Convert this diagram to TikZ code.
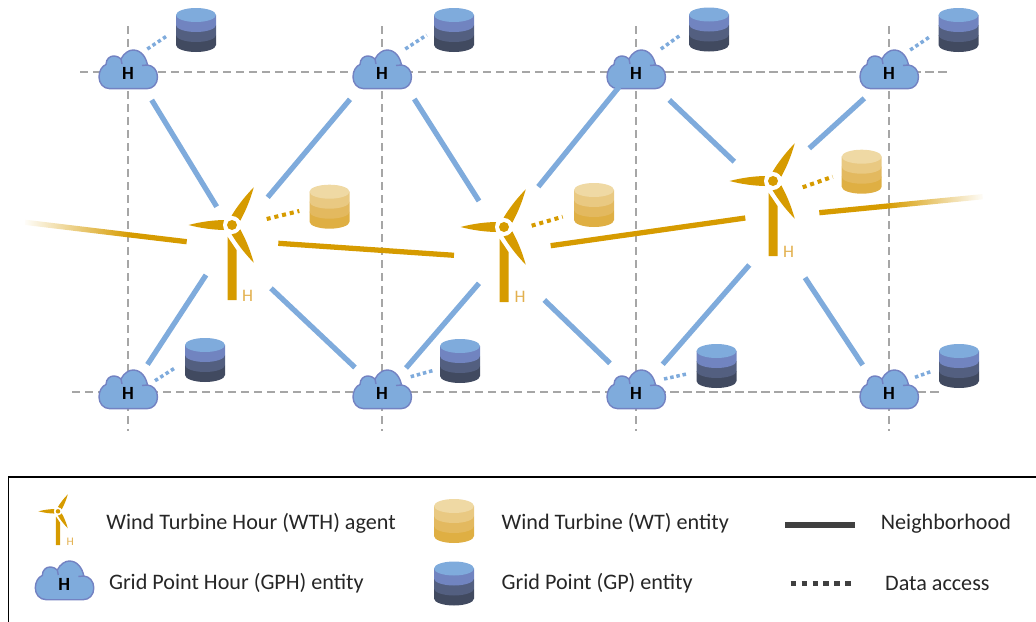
\documentclass[tikz,border=0pt]{standalone}
\usepackage{fontspec}
\setmainfont{Carlito}
\usetikzlibrary{calc,fadings}
\definecolor{gridblue}{HTML}{7FABDC}
\definecolor{cloudedge}{HTML}{7382C2}
\definecolor{windgold}{HTML}{D69B00}
\definecolor{hourgold}{HTML}{E2B04E}
\definecolor{gridgray}{HTML}{A6A6A6}
\definecolor{legendgray}{HTML}{404040}
\definecolor{gpa}{HTML}{7FABDC}
\definecolor{gpb}{HTML}{7184C0}
\definecolor{gpc}{HTML}{535F80}
\definecolor{gpd}{HTML}{414A60}
\definecolor{wta}{HTML}{EFD9A4}
\definecolor{wtb}{HTML}{E9C982}
\definecolor{wtc}{HTML}{E3B95F}
\definecolor{wtd}{HTML}{DFAF43}
\tikzfading[name=fadewest,left color=transparent!100,right color=transparent!0]
\tikzfading[name=fadeeast,left color=transparent!0,right color=transparent!100]
\tikzstyle{griddash}=[draw=gridgray,line width=0.7pt,dash pattern=on 4.8pt off 2.6pt]
\tikzstyle{neighbor}=[draw=gridblue,line width=3pt]
\tikzstyle{windline}=[draw=windgold,line width=3pt]
\tikzstyle{griddata}=[draw=gridblue,line width=2pt,dash pattern=on 2pt off 1.6pt]
\tikzstyle{winddata}=[draw=windgold,line width=2.3pt,dash pattern=on 2.3pt off 2.2pt]
\tikzstyle{hubnode}=[circle,fill=windgold,minimum size=5.7pt,inner sep=0pt,transform shape]
\tikzstyle{Hcloud}=[inner sep=0pt,font=\fontsize{10.6}{12}\selectfont\bfseries,text height=8.3pt,text depth=0pt]
\tikzstyle{Hturbine}=[inner sep=0pt,text=hourgold,font=\fontsize{10}{12}\selectfont]
\tikzstyle{legendtext}=[anchor=west,inner sep=0pt,text=black!85,font=\fontsize{12.6}{14}\selectfont]
\newcommand{\cloudnode}[3]{
    \begin{scope}[shift={(#2,#3)}]
        \draw[fill=gridblue,draw=cloudedge,line width=0.8pt,line join=round]
            (-18,16.7) .. controls (-25,16.7) and (-29,11) .. (-29,5)
            .. controls (-29,-1) and (-26,-6) .. (-22,-7.5)
            .. controls (-22,-13) and (-18,-16) .. (-14.5,-16)
            .. controls (-11,-16) and (-8.5,-14.5) .. (-7,-13)
            .. controls (-4,-19) and (1,-22) .. (5,-22)
            .. controls (13,-22) and (18,-15) .. (19.5,-7)
            .. controls (25,-6.5) and (29.5,-2) .. (29.5,5)
            .. controls (29.5,12) and (25,16.7) .. (18.7,16.7) -- cycle;
        \draw[draw=cloudedge,line width=0.8pt] (-7,-13) .. controls (-6.3,-11) .. (-6,-8);
        \draw[draw=cloudedge,line width=0.8pt] (19.5,-7) .. controls (17,-7.3) .. (14,-6.5);
        \node[Hcloud] (#1) at (0,0) {H};
    \end{scope}
}
\newcommand{\cylstack}[7]{
    \begin{scope}[shift={(#2,#3)}]
        \foreach \ya/\yb/\col in {5/15/#7,-5/5/#6,-15/-5/#5} {
            \fill[\col] (-20,\ya) -- (-20,\yb) arc[start angle=180,end angle=0,x radius=20,y radius=7] -- (20,\ya) -- cycle;
        }
        \fill[#4] (0,-15) ellipse[x radius=20,y radius=7];
        \coordinate (#1) at (0,0);
    \end{scope}
}
\newcommand{\windturbine}[4]{
    \begin{scope}[shift={(#2,#3)},scale=#4]
        \fill[windgold] (-4.5,75) -- (-4.5,11.7) -- (4.5,25) -- (4.5,75) -- cycle;
        \foreach \ang in {0,120,240} {
            \fill[windgold,rotate=\ang] (-43.5,0) .. controls (-30,-3.5) and (-18,-4.8) .. (-8,-5) -- (-8,5) .. controls (-18,4.8) and (-30,3.5) .. (-43.5,0) -- cycle;
        }
        \fill[white] (0,0) circle (9);
        \node[hubnode] (#1) at (0,0) {};
    \end{scope}
}
\begin{document}
\begin{tikzpicture}[x=0.02cm,y=-0.02cm]
    \useasboundingbox (0,0) rectangle (1036,622);
    \coordinate (HN1) at (80,72);
    \coordinate (HN2) at (946.7,72);
    \coordinate (HS1) at (72,392);
    \coordinate (HS2) at (938.5,392);
    \draw[griddash] (HN1) -- (HN2);
    \draw[griddash] (HS1) -- (HS2);
    \foreach \n/\x in {1/128,2/382,3/636,4/889} {
        \coordinate (VN\n) at (\x,26);
        \coordinate (VS\n) at (\x,431);
        \draw[griddash] (VN\n) -- (VS\n);
    }

    \cloudnode{GT1}{128}{72}
    \cloudnode{GT2}{382}{72}
    \cloudnode{GT3}{636}{72}
    \cloudnode{GT4}{889}{72}
    \cloudnode{GB1}{128}{392}
    \cloudnode{GB2}{382}{392}
    \cloudnode{GB3}{636}{392}
    \cloudnode{GB4}{889}{392}
    \cylstack{DT1}{196}{30}{gpa}{gpb}{gpc}{gpd}
    \cylstack{DT2}{454}{30}{gpa}{gpb}{gpc}{gpd}
    \cylstack{DT3}{709}{29.5}{gpa}{gpb}{gpc}{gpd}
    \cylstack{DT4}{958.5}{30}{gpa}{gpb}{gpc}{gpd}
    \cylstack{DB1}{205}{360}{gpa}{gpb}{gpc}{gpd}
    \cylstack{DB2}{460}{361}{gpa}{gpb}{gpc}{gpd}
    \cylstack{DB3}{716.5}{366}{gpa}{gpb}{gpc}{gpd}
    \cylstack{DB4}{959}{366}{gpa}{gpb}{gpc}{gpd}
    \cylstack{DW1}{329.5}{206.7}{wta}{wtb}{wtc}{wtd}
    \cylstack{DW2}{594}{205}{wta}{wtb}{wtc}{wtd}
    \cylstack{DW3}{861.7}{171.7}{wta}{wtb}{wtc}{wtd}

    \windturbine{W1}{232}{225}{1}
    \windturbine{W2}{504}{227}{1}
    \windturbine{W3}{773}{181}{1}
    \node[Hturbine] (HW1) at (247.5,295.7) {H};
    \node[Hturbine] (HW2) at (520,297.3) {H};
    \node[Hturbine] (HW3) at (788.7,251.7) {H};

    \draw[neighbor] ($(GT1)+(23.7,28)$) -- ($(W1)+(-15.3,-18.3)$);
    \draw[neighbor] ($(GT2)+(-32,27.3)$) -- ($(W1)+(35.7,-27.7)$);
    \draw[neighbor] ($(GB1)+(19.5,-27.5)$) -- ($(W1)+(-26,50)$);
    \draw[neighbor] ($(GB2)+(-27,-24.5)$) -- ($(W1)+(39,63.3)$);
    \draw[neighbor] ($(GT2)+(32.3,27)$) -- ($(W2)+(-25,-26)$);
    \draw[neighbor] ($(GT3)+(-17,15)$) -- ($(W2)+(34.3,-40.3)$);
    \draw[neighbor] ($(GB2)+(24,-24)$) -- ($(W2)+(-25,56.3)$);
    \draw[neighbor] ($(GB3)+(-26,-28.7)$) -- ($(W2)+(40.3,73)$);
    \draw[neighbor] ($(GT3)+(33.3,28)$) -- ($(W3)+(-38.7,-19.3)$);
    \draw[neighbor] ($(GT4)+(-24.7,26.3)$) -- ($(W3)+(36.3,-32.7)$);
    \draw[neighbor] ($(GB3)+(26.7,-27.7)$) -- ($(W3)+(-23.7,84)$);
    \draw[neighbor] ($(GB4)+(-26.3,-27)$) -- ($(W3)+(32,96.7)$);

    \coordinate (WestEnd) at (25,222.3);
    \coordinate (WestMid) at (128,234.7);
    \coordinate (EastMid) at (889,205.9);
    \coordinate (EastEnd) at (982.7,196.7);
    \draw[windline,path fading=fadewest] (WestEnd) -- (WestMid);
    \draw[windline] (WestMid) -- ($(W1)+(-45.3,16.7)$);
    \draw[windline] ($(W1)+(46.3,18.3)$) -- ($(W2)+(-50,28.3)$);
    \draw[windline] ($(W2)+(46.7,18.7)$) -- ($(W3)+(-27.7,37)$);
    \draw[windline] ($(W3)+(46.3,31.7)$) -- (EastMid);
    \draw[windline,path fading=fadeeast] (EastMid) -- (EastEnd);

    \draw[griddata] ($(GT1)+(19.3,-23)$) -- ($(DT1)+(-27.7,5)$);
    \draw[griddata] ($(GT2)+(23.3,-23)$) -- ($(DT2)+(-27.3,5)$);
    \draw[griddata] ($(GT3)+(24.9,-23)$) -- ($(DT3)+(-27.7,5)$);
    \draw[griddata] ($(GT4)+(21.2,-22)$) -- ($(DT4)+(-27.5,6)$);
    \draw[griddata] ($(GB1)+(27,-11.3)$) -- ($(DB1)+(-29,7.3)$);
    \draw[griddata] ($(GB2)+(28.7,-15.3)$) -- ($(DB2)+(-25,9)$);
    \draw[griddata] ($(GB3)+(28,-13)$) -- ($(DB3)+(-29.8,8)$);
    \draw[griddata] ($(GB4)+(26,-14.7)$) -- ($(DB4)+(-27.3,5.3)$);
    \draw[winddata] ($(W1)+(34.7,-6)$) -- ($(DW1)+(-30.2,4.3)$);
    \draw[winddata] ($(W2)+(27.7,-1.3)$) -- ($(DW2)+(-31.3,11.7)$);
    \draw[winddata] ($(W3)+(29.7,6.3)$) -- ($(DW3)+(-29,5)$);

    \draw[line width=0.8pt] (8.5,622) -- (8.5,477) -- (1036,477);
    \windturbine{LW}{58}{511.3}{0.45}
    \node[Hturbine,font=\fontsize{6.6}{8}\selectfont] (LHW) at (70.3,541.7) {H};
    \cloudnode{LG}{64.3}{583}
    \cylstack{LDW}{454}{521}{wta}{wtb}{wtc}{wtd}
    \cylstack{LDG}{454}{583.5}{gpa}{gpb}{gpc}{gpd}
    \coordinate (LN1) at (785.4,524.7);
    \coordinate (LN2) at (855,524.7);
    \coordinate (LD1) at (790.5,583.3);
    \coordinate (LD2) at (851,583.3);
    \draw[draw=legendgray,line width=3.4pt] (LN1) -- (LN2);
    \draw[draw=legendgray,line width=2.85pt,dash pattern=on 3.13pt off 3.13pt] (LD1) -- (LD2);
    \node[legendtext] (T1) at (106,523.5) {Wind Turbine Hour (WTH) agent};
    \node[legendtext] (T2) at (108.7,583.5) {Grid Point Hour (GPH) entity};
    \node[legendtext] (T3) at (501.3,523) {Wind Turbine (WT) entity};
    \node[legendtext] (T4) at (501.3,583.5) {Grid Point (GP) entity};
    \node[legendtext] (T5) at (880.5,523.5) {Neighborhood};
    \node[legendtext] (T6) at (884.8,583.5) {Data access};
\end{tikzpicture}
\end{document}
